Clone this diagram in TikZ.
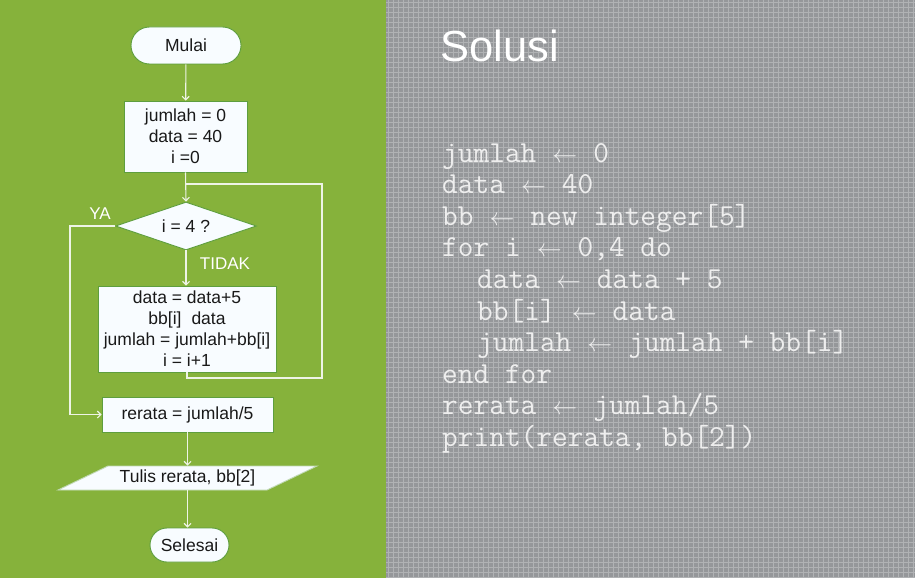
\documentclass[tikz,border=0pt]{standalone}
\usepackage{fontspec}
\setmainfont{Liberation Sans}
\usetikzlibrary{shapes.geometric,shapes.misc,arrows.meta}
\definecolor{bggreen}{HTML}{86B23B}
\definecolor{bggray}{HTML}{95979A}
\definecolor{gridc}{HTML}{B0B2B4}
\definecolor{edgec}{HTML}{5E9E3E}
\definecolor{fillc}{HTML}{F8FCFF}
\definecolor{linec}{HTML}{EEF4E6}
\definecolor{codec}{HTML}{EEEEEE}
\newcommand\larr{\makebox[25.5pt]{\fontsize{24}{24}\selectfont$\leftarrow$}}
\begin{document}
\begin{tikzpicture}[x=1pt,y=-1pt,
 box/.style={draw=edgec, fill=fillc, line width=0.9pt, inner sep=0pt, align=center, font=\fontsize{17.5}{21}\selectfont, text=black!90},
 term/.style={box, rounded rectangle},
 arr/.style={draw=linec, line width=1.1pt, -{Straight Barb[length=3.5pt,width=7pt]}},
 ln/.style={draw=linec, line width=1.1pt},
 lbl/.style={text=white, font=\fontsize{17}{20}\selectfont, inner sep=0pt},
 code/.style={text=codec, font=\ttfamily\fontsize{30.5}{31}\selectfont, anchor=base west, inner sep=0pt}]

\useasboundingbox (0,0) rectangle (915,578);
\fill[bggreen] (0,0) rectangle (386,578);
\fill[bggray] (386,0) rectangle (915,578);
\foreach \x in {388,393,...,915} \draw[gridc, line width=0.7pt] (\x,0) -- (\x,578);
\foreach \y in {2,7,...,578} \draw[gridc, line width=0.7pt] (386,\y) -- (915,\y);

% flowchart
\node[term, minimum width=110pt, minimum height=37pt] (mulai) at (186,45.5) {Mulai};
\node[box, minimum width=123pt, minimum height=71pt] (init) at (185.5,136.5) {jumlah = 0\\data = 40\\i =0};
\node[box, diamond, aspect=2.9, minimum width=141pt, minimum height=48pt] (cek) at (186,226) {i = 4 ?};
\node[box, minimum width=178pt, minimum height=86pt] (body) at (187,329) {data = data+5\\bb[i]\hspace{10pt}data\\jumlah = jumlah+bb[i]\\i = i+1};
\node[box, minimum width=171pt, minimum height=35pt] (rerata) at (187.5,414.5) {rerata = jumlah/5};
\draw[draw=edgec!40!white, fill=fillc, line width=0.9pt] (58,490) -- (108,466) -- (317,466) -- (267,490) -- cycle;
\node[box, draw=none, fill=none, minimum width=209pt, minimum height=24pt] (tulis) at (187.5,478) {Tulis rerata, bb[2]};
\node[term, minimum width=79pt, minimum height=34pt] (selesai) at (189.5,545) {Selesai};

\node[lbl] (ya) at (100,214) {YA};
\node[lbl] (tidak) at (225,264) {TIDAK};

\draw[arr] (mulai) -- (init);
\draw[arr] (init.south) -- (cek.north);
\draw[arr] (cek.south) -- (cek.south |- body.north);
\coordinate (yaturn) at (70,300);
\draw[arr] (cek.west) -| (yaturn) |- (rerata.west);
\coordinate (loopbr) at (322,378);
\coordinate (looptr) at (322,184);
\draw[ln] (body.south) |- (loopbr) -- (looptr) -- (init.south |- looptr);
\draw[arr] (rerata.south) -- (rerata.south |- tulis.north);
\draw[arr] (tulis.south) -- (tulis.south |- selesai.north);

% right panel
\node[text=white, font=\fontsize{43.5}{48}\selectfont, anchor=base west, inner sep=0pt] (title) at (440,62) {Solusi};
\node[code] (c1) at (442,162) {jumlah \larr{} 0};
\node[code] (c2) at (442,193.6) {data \larr{} 40};
\node[code] (c3) at (442,225.2) {bb \larr{} new integer[5]};
\node[code] (c4) at (442,256.8) {for i \larr{} 0,4 do};
\node[code] (c5) at (477,288.4) {data \larr{} data + 5};
\node[code] (c6) at (477,320) {bb[i] \larr{} data};
\node[code] (c7) at (477,351.6) {jumlah \larr{} jumlah + bb[i]};
\node[code] (c8) at (442,383.2) {end for};
\node[code] (c9) at (442,414.8) {rerata \larr{} jumlah/5};
\node[code] (c10) at (442,446.4) {print(rerata, bb[2])};
\end{tikzpicture}
\end{document}
